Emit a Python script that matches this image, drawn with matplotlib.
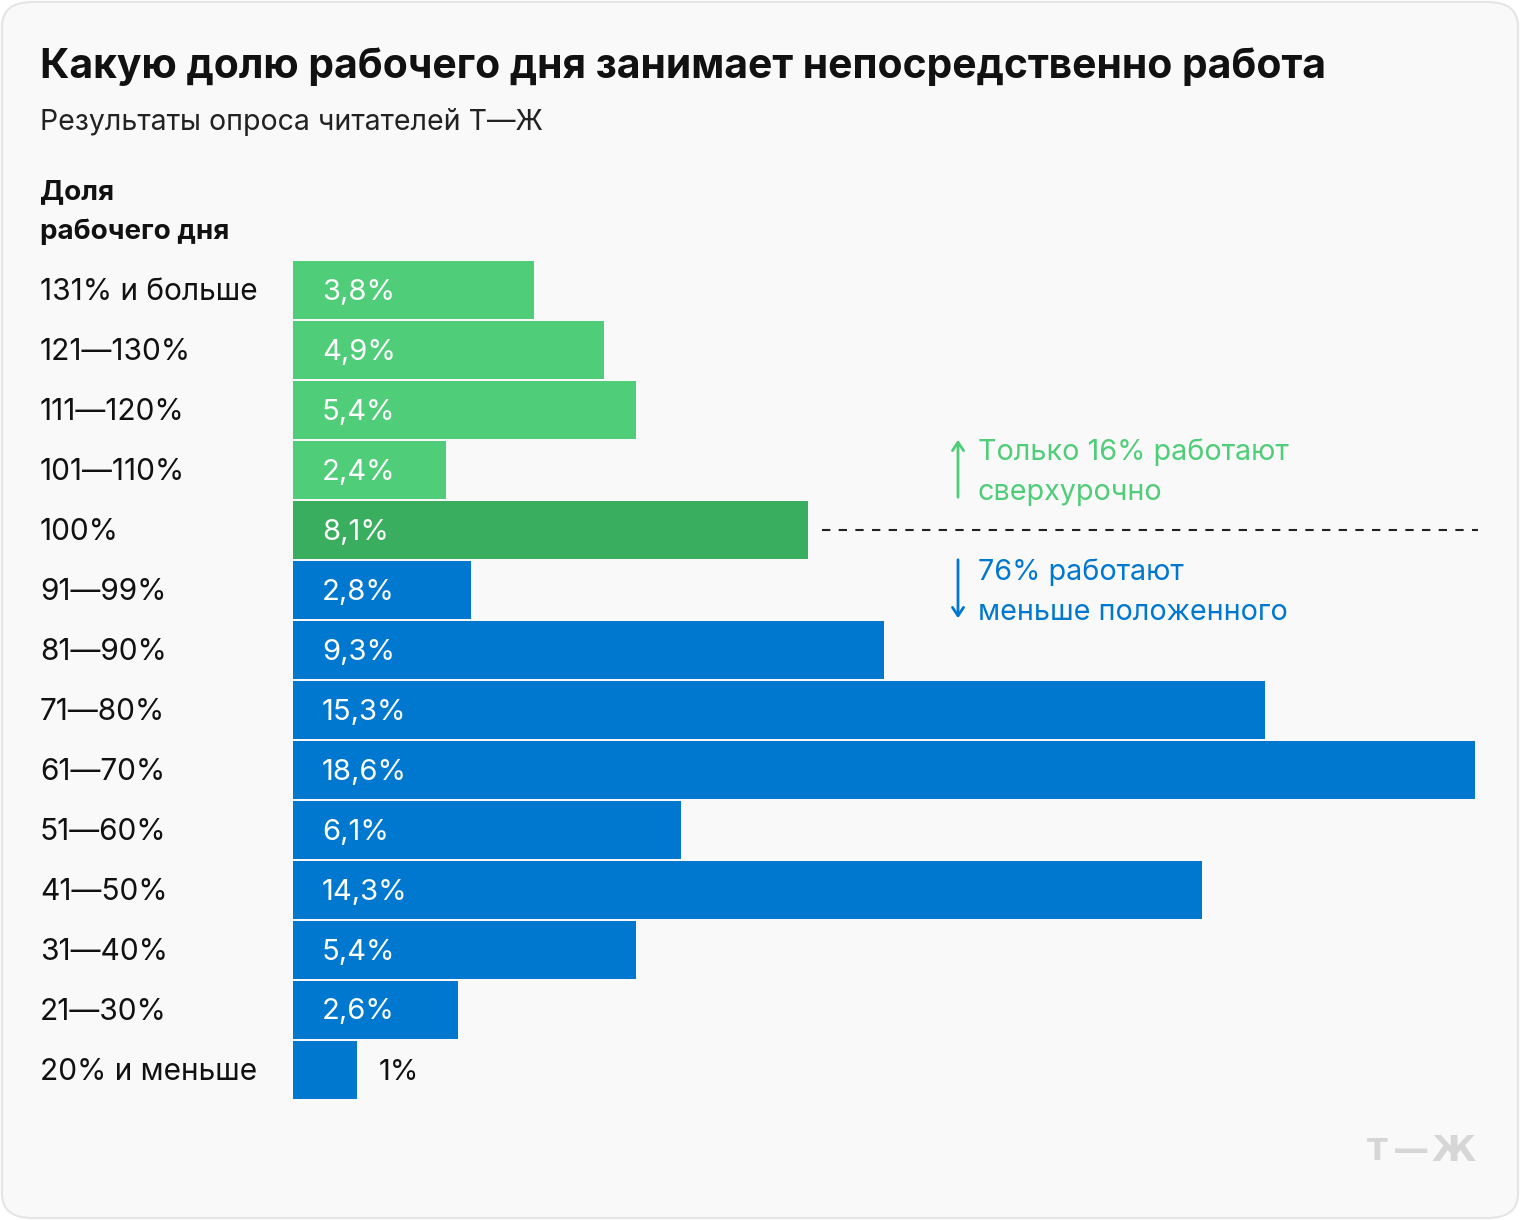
import matplotlib
matplotlib.use("Agg")
import matplotlib.pyplot as plt
from matplotlib.patches import FancyBboxPatch, FancyArrowPatch

plt.rcParams['font.family'] = ['Inter', 'DejaVu Sans']

categories = ["131% и больше", "121—130%", "111—120%", "101—110%", "100%",
              "91—99%", "81—90%", "71—80%", "61—70%", "51—60%", "41—50%",
              "31—40%", "21—30%", "20% и меньше"]
values = [3.8, 4.9, 5.4, 2.4, 8.1, 2.8, 9.3, 15.3, 18.6, 6.1, 14.3, 5.4, 2.6, 1.0]
value_labels = ["3,8%", "4,9%", "5,4%", "2,4%", "8,1%", "2,8%", "9,3%", "15,3%",
                "18,6%", "6,1%", "14,3%", "5,4%", "2,6%", "1%"]
groups = ["over", "over", "over", "over", "exact", "under", "under", "under",
          "under", "under", "under", "under", "under", "under"]

title = "Какую долю рабочего дня занимает непосредственно работа"
subtitle = "Результаты опроса читателей Т—Ж"
axis_title = "Доля\nрабочего дня"
note_over = "Только 16% работают\nсверхурочно"
note_under = "76% работают\nменьше положенного"
logo_parts = ["Т", "—", "Ж"]

GREEN = "#50cd78"
DGREEN = "#3aae5f"
BLUE = "#0078cf"
colors = {"over": GREEN, "exact": DGREEN, "under": BLUE}

W, H = 1520, 1220
fig = plt.figure(figsize=(W / 100, H / 100), dpi=100)
fig.patch.set_facecolor("white")

def fx(x):
    return x / W

def fy(y):
    return 1 - y / H

card = FancyBboxPatch((fx(2), fy(1218)), fx(1516), 1216 / H,
                      boxstyle="round,pad=0,rounding_size=0.02",
                      transform=fig.transFigure, facecolor="#f9f9f9",
                      edgecolor="#e5e5e5", linewidth=1.5, zorder=-5)
fig.patches.append(card)

# axes: x from 293 to 1475 px (0..18.6), y rows from 260 to 1100
ax = fig.add_axes([fx(293), fy(1100), fx(1475 - 293), 840 / H])
ax.set_facecolor("none")
ax.set_zorder(2)
n = len(categories)
ypos = list(range(n))
ax.barh(ypos, values, height=0.967, color=[colors[g] for g in groups], zorder=2)
ax.set_xlim(0, max(values))
ax.set_ylim(n - 0.5, -0.5)
ax.axis("off")

unit = max(values) / (1475 - 293)
dy = 2 / 60.0
for i, (v, lab) in enumerate(zip(values, value_labels)):
    if v > 1.5:
        ax.text(29 * unit, i + dy, lab, color="white", fontsize=21,
                va="center", ha="left")
    else:
        ax.text(v + 22 * unit, i + dy, lab, color="#111111",
                fontsize=21, va="center", ha="left")
    fig.text(fx(40), fy(292 + 60 * i), categories[i], fontsize=21.5,
             color="#111111", va="center", ha="left")

fig.text(fx(40), fy(67), title, fontsize=29.4, fontweight="bold", color="#111111",
         va="center", ha="left")
fig.text(fx(40), fy(122), subtitle, fontsize=20.5, color="#222222",
         va="center", ha="left")
fig.text(fx(40), fy(212), axis_title, fontsize=20, fontweight="bold",
         color="#111111", va="center", ha="left", linespacing=1.65)

# dashed separator
fig.add_artist(plt.Line2D([fx(822), fx(1478)], [fy(530), fy(530)],
                          transform=fig.transFigure, color="#222222",
                          linewidth=1.5, linestyle=(0, (4, 4))))

# annotations
fig.text(fx(978), fy(472), note_over, fontsize=20.7, color=GREEN,
         va="center", ha="left", linespacing=1.6)
fig.text(fx(978), fy(592), note_under, fontsize=20.7, color=BLUE,
         va="center", ha="left", linespacing=1.6)
fig.patches.append(FancyArrowPatch(
    (fx(958), fy(500)), (fx(958), fy(437)), transform=fig.transFigure,
    arrowstyle="->,head_length=6,head_width=4", color=GREEN, linewidth=2))
fig.patches.append(FancyArrowPatch(
    (fx(958), fy(557)), (fx(958), fy(621)), transform=fig.transFigure,
    arrowstyle="->,head_length=6,head_width=4", color=BLUE, linewidth=2))

# logo
for part, cx, fs in zip(logo_parts, [1377, 1411, 1454], [22, 26, 26]):
    fig.text(fx(cx), fy(1151), part, fontsize=fs, fontweight="bold",
             family="DejaVu Sans", color="#d6d6d6", va="center", ha="center")

fig.savefig("out.png", dpi=100, facecolor="white")
